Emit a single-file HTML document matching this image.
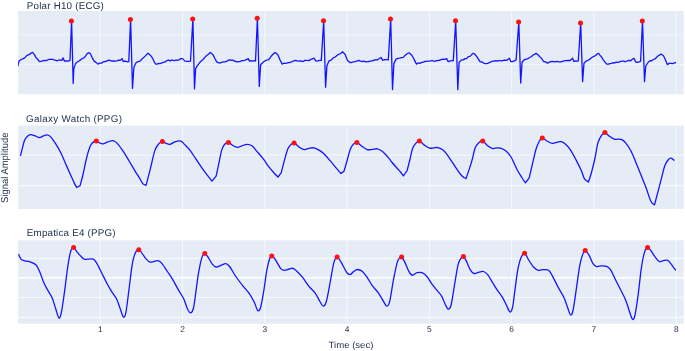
<!DOCTYPE html>
<html><head><meta charset="utf-8"><style>
html,body{margin:0;padding:0;background:#fff;}
svg{display:block;will-change:transform;}
text{font-family:"Liberation Sans",sans-serif;fill:#22334f;text-rendering:geometricPrecision;}
</style></head><body>
<svg width="685" height="351" viewBox="0 0 685 351">
<rect width="685" height="351" fill="#fff"/>
<defs>
<clipPath id="c0"><rect x="18.1" y="10.9" width="665.6" height="83.4"/></clipPath>
<clipPath id="c1"><rect x="18.1" y="125.6" width="665.6" height="83.4"/></clipPath>
<clipPath id="c2"><rect x="18.1" y="240.3" width="665.6" height="83.4"/></clipPath>
</defs>
<rect x="18.1" y="10.9" width="665.6" height="83.4" fill="#E5ECF6"/>
<path d="M100.26,10.9V94.3M182.54,10.9V94.3M264.82,10.9V94.3M347.1,10.9V94.3M429.38,10.9V94.3M511.66,10.9V94.3M593.94,10.9V94.3M676.22,10.9V94.3" stroke="#fff" stroke-width="1" opacity="0.6" fill="none"/>
<path d="M18.1,34.8H683.7M18.1,64.4H683.7" stroke="#fff" stroke-width="1.1" opacity="0.5" fill="none"/>
<rect x="18.1" y="125.6" width="665.6" height="83.4" fill="#E5ECF6"/>
<path d="M100.26,125.6V209M182.54,125.6V209M264.82,125.6V209M347.1,125.6V209M429.38,125.6V209M511.66,125.6V209M593.94,125.6V209M676.22,125.6V209" stroke="#fff" stroke-width="1" opacity="0.6" fill="none"/>
<path d="M18.1,154.95H683.7M18.1,185.6H683.7" stroke="#fff" stroke-width="1.1" opacity="0.7" fill="none"/>
<rect x="18.1" y="240.3" width="665.6" height="83.4" fill="#E5ECF6"/>
<path d="M100.26,240.3V323.7M182.54,240.3V323.7M264.82,240.3V323.7M347.1,240.3V323.7M429.38,240.3V323.7M511.66,240.3V323.7M593.94,240.3V323.7M676.22,240.3V323.7" stroke="#fff" stroke-width="1" opacity="0.6" fill="none"/>
<path d="M18.1,258.4H683.7M18.1,297.45H683.7M18.1,317.35H683.7" stroke="#fff" stroke-width="1.1" opacity="0.7" fill="none"/>
<path d="M18.1,277.75H683.7" stroke="#fff" stroke-width="1.3" fill="none"/>
<g clip-path="url(#c0)"><path d="M18,66.1 L19,61.1 L20.47,60.06 L21.93,59.01 L23.4,58.6 L25.07,57.55 L26.73,55.62 L28.4,54.9 L29.8,54.11 L31.2,53.07 L32.6,52.4 L34.25,54.37 L35.9,57.4 L37.75,59.51 L39.6,61.6 L42,61.1 L43.9,60.29 L45.8,60.6 L47.43,60.12 L49.07,59.28 L50.7,59.4 L52.37,59.24 L54.03,59.98 L55.7,60.4 L57.25,60.79 L58.8,59.95 L60.35,60.07 L61.9,60.4 L63.1,57.9 L64.4,61.1 L66.27,61.02 L68.13,61.17 L70,60.4 L71.6,20.9 L73.2,83.4 L73.8,68.6 L75.6,63.6 L76.8,62.3 L78.65,61.19 L80.5,59.9 L82.17,58.51 L83.83,57.94 L85.5,56.1 L87,53.86 L88.5,52.7 L90.4,53.7 L92.3,57.83 L94.2,61.1 L96.05,62.35 L97.9,64.1 L99.75,63.17 L101.6,63.1 L103.15,61.97 L104.7,61.52 L106.25,61.45 L107.8,60.4 L109.3,60.16 L110.8,60.78 L112.3,60.99 L113.8,60.81 L115.3,61.1 L116.93,60.92 L118.57,60.11 L120.2,60.4 L122.2,58.6 L123.2,61.6 L124.6,61.07 L126,61.25 L127.4,61.82 L128.8,61.6 L130.6,19.4 L132.5,88.4 L133.9,67.3 L136.3,62.3 L138.2,61.61 L140.1,61.1 L141.95,59.03 L143.8,57.4 L145.9,55.4 L148,53.2 L149.6,54.59 L151.2,56.1 L152.7,58.53 L154.2,61.79 L155.7,64.1 L157.1,64.17 L158.5,63.46 L159.9,63.6 L161.4,63.05 L162.9,62.35 L164.4,62.13 L165.9,61.32 L167.4,60.4 L168.81,60.15 L170.23,60.98 L171.64,59.94 L173.06,60.3 L174.47,60.71 L175.89,59.98 L177.3,60.4 L179.03,59.79 L180.77,58.65 L182.5,58.6 L185,61.1 L186.83,61.3 L188.67,61.42 L190.5,61.1 L192.9,18.9 L194.5,88.9 L195.6,68.6 L197.4,65.6 L199.9,62.3 L201.53,60.75 L203.17,59.48 L204.8,57.4 L206.63,55.51 L208.47,54.3 L210.3,52.4 L212.8,54.4 L214.75,58.26 L216.7,61.9 L218.2,62.6 L219.7,63.1 L221.55,62.45 L223.4,61.9 L224.95,61.81 L226.5,61.43 L228.05,60.37 L229.6,59.9 L231.05,60.38 L232.5,59.94 L233.95,60.99 L235.4,61.21 L236.85,61.91 L238.3,61.6 L239.85,61.69 L241.4,60.74 L242.95,60.56 L244.5,60.4 L246.35,59.7 L248.2,58.6 L249.5,61.1 L251,60.53 L252.5,61.05 L254,60.7 L255.5,61.1 L257.4,18.2 L259.3,86.4 L260.6,64.8 L263.1,62.3 L264.77,61.04 L266.43,60.17 L268.1,59.9 L269.83,58.35 L271.55,55.71 L273.27,53.97 L275,52.4 L276.5,53.52 L278,54.9 L280.1,59.95 L282.2,64.1 L283.7,63.26 L285.2,63.37 L286.7,63.1 L288.18,62.66 L289.66,62.56 L291.14,61.98 L292.62,61.54 L294.1,60.6 L295.77,60.5 L297.43,60.83 L299.1,61.1 L300.51,60.86 L301.93,61.42 L303.34,61.43 L304.76,60.4 L306.17,60.35 L307.59,60.35 L309,60.6 L310.67,59.45 L312.33,58.92 L314,58.1 L316,61.1 L317.77,60.97 L319.53,60.35 L321.3,60.4 L323.7,20.7 L325.6,87.2 L326.9,66.1 L328.9,61.1 L331.4,59.9 L333.03,58.04 L334.67,57.27 L336.3,56.1 L337.85,54.84 L339.4,53.98 L340.95,53.34 L342.5,51.7 L345,54.2 L347.5,60.4 L350,62.6 L351.63,62.5 L353.27,61.95 L354.9,61.6 L356.75,61.14 L358.6,60.4 L360.5,61.21 L362.4,61.6 L363.88,60.96 L365.36,61.88 L366.84,61.64 L368.32,61.65 L369.8,61.1 L371.3,61.22 L372.8,60.49 L374.3,60.26 L375.8,59.66 L377.3,59.9 L379.15,58.81 L381,57.4 L382.7,60.4 L384.1,59.75 L385.5,59.63 L386.9,59.68 L388.3,59.9 L390.7,18.9 L392.5,89.6 L393.9,63.6 L395.9,59.4 L397.75,58.34 L399.6,58.1 L401.45,57.56 L403.3,57.4 L404.73,55.69 L406.15,54.45 L407.57,53.46 L409,52.7 L411.5,54.9 L413.17,57.49 L414.83,60.87 L416.5,64.1 L418.3,62.93 L420.1,63.35 L421.9,62.3 L423.4,62.2 L424.9,61.4 L426.4,61.28 L427.9,61.16 L429.4,61.1 L430.81,60.84 L432.23,60.45 L433.64,61.22 L435.06,61.29 L436.47,60.56 L437.89,60.48 L439.3,60.4 L440.97,59.57 L442.63,59.26 L444.3,59.4 L446.7,58.6 L448,61.6 L449.77,61.08 L451.53,60.65 L453.3,60.6 L455.7,20.7 L457.8,89.6 L459.1,62.3 L461.6,59.9 L463.27,59.86 L464.93,58.63 L466.6,58.6 L468.28,56.68 L469.95,56.44 L471.62,54.58 L473.3,53.2 L474.9,54.23 L476.5,56.1 L478.35,59.05 L480.2,61.9 L481.87,61.9 L483.53,63.07 L485.2,63.6 L486.75,63.67 L488.3,63.04 L489.85,62.34 L491.4,61.6 L492.88,61.11 L494.36,61.04 L495.84,60.6 L497.32,61.13 L498.8,60.6 L500.3,60.6 L501.8,60.85 L503.3,60.28 L504.8,60.11 L506.3,60.4 L507.8,59.62 L509.3,58.1 L510.8,61.6 L512.57,61.62 L514.33,60.89 L516.1,59.9 L518.8,22.1 L520.7,83 L522.1,62 L524.6,59.5 L526.3,59.2 L528,58.55 L529.7,57.5 L531.28,56.76 L532.85,55.12 L534.42,54.45 L536,53.4 L538.5,55.2 L540.2,57.13 L541.9,58.83 L543.6,61.5 L545.5,61.83 L547.4,63.3 L549.07,62.37 L550.73,61.68 L552.4,61.3 L553.84,61.53 L555.29,61.85 L556.73,61.24 L558.17,61.82 L559.61,61.89 L561.06,61.85 L562.5,61.3 L564.02,60.98 L565.54,60.64 L567.06,60.49 L568.58,60.3 L570.1,60.5 L572.6,58.2 L573.9,61.5 L575.37,60.91 L576.83,61.18 L578.3,60.8 L580.7,22.9 L582.6,81.7 L584,63.3 L586.5,60.8 L588.17,60.25 L589.83,59.14 L591.5,57.7 L592.92,56.82 L594.34,56.16 L595.76,55.48 L597.18,53.76 L598.6,53.4 L600.1,55.39 L601.6,57 L603.3,59.86 L605,62.07 L606.7,64.1 L608.37,64.17 L610.03,63.61 L611.7,63.4 L613.18,62.66 L614.67,63.05 L616.15,62.15 L617.63,62.36 L619.12,62.22 L620.6,61.3 L622.04,61.1 L623.49,61.04 L624.93,61.62 L626.37,61.28 L627.81,60.55 L629.26,60.42 L630.7,60.8 L632.35,59.08 L634,58.2 L635.7,62 L637.33,62.25 L638.97,61.9 L640.6,61.3 L642.5,21.1 L644.5,81.7 L645.8,65.8 L648.4,62 L650.07,60.74 L651.73,60.73 L653.4,59.5 L654.92,58.98 L656.44,57.49 L657.96,56.02 L659.48,55.16 L661,54 L663.5,55.7 L665.4,59.71 L667.3,64.6 L669.2,63.37 L671.1,63.3 L672.77,63.6 L674.43,62.95 L676.1,62.5" stroke="#1414ff" stroke-width="1.3" fill="none" stroke-linejoin="round"/>
<circle cx="71.4" cy="20.9" r="2.5" fill="#ff1010"/>
<circle cx="130.4" cy="19.6" r="2.5" fill="#ff1010"/>
<circle cx="192.7" cy="18.9" r="2.5" fill="#ff1010"/>
<circle cx="257.2" cy="18.2" r="2.5" fill="#ff1010"/>
<circle cx="323.5" cy="20.7" r="2.5" fill="#ff1010"/>
<circle cx="390.5" cy="18.9" r="2.5" fill="#ff1010"/>
<circle cx="455.5" cy="20.7" r="2.5" fill="#ff1010"/>
<circle cx="518.6" cy="22.1" r="2.5" fill="#ff1010"/>
<circle cx="580.5" cy="22.9" r="2.5" fill="#ff1010"/>
<circle cx="642.3" cy="21.1" r="2.5" fill="#ff1010"/>
</g>
<g clip-path="url(#c1)"><path d="M20.5,155.8 C20.78,154.63 21.5,151.42 22.2,148.8 C22.9,146.18 23.87,142.17 24.7,140.1 C25.53,138.03 26.17,137.3 27.2,136.4 C28.23,135.5 29.67,134.82 30.9,134.7 C32.13,134.58 33.15,135.22 34.6,135.7 C36.05,136.18 38.15,137.57 39.6,137.6 C41.05,137.63 42.07,136.35 43.3,135.9 C44.53,135.45 45.77,134.73 47,134.9 C48.23,135.07 49.25,135.4 50.7,136.9 C52.15,138.4 54.03,141.3 55.7,143.9 C57.37,146.5 59.05,149.2 60.7,152.5 C62.35,155.8 63.95,159.97 65.6,163.7 C67.25,167.43 69.15,171.67 70.6,174.9 C72.05,178.13 73.28,181 74.3,183.1 C75.32,185.2 75.9,186.03 76.7,187.5 C77.83,186.87 78.97,186.23 80.1,185.6 C81.07,181.9 81.9,179.18 83,174.5 C84.1,169.82 85.47,162.28 86.7,157.5 C87.93,152.72 89.15,148.48 90.4,145.8 C91.65,143.12 93.17,142.18 94.2,141.4 C95.23,140.62 95.78,140.9 96.6,141.1 C97.42,141.3 98.07,142.13 99.1,142.6 C100.13,143.07 101.35,144.02 102.8,143.9 C104.25,143.78 106.13,142.45 107.8,141.9 C109.47,141.35 111.35,140.48 112.8,140.6 C114.25,140.72 115.05,141.23 116.5,142.6 C117.95,143.97 119.85,146.52 121.5,148.8 C123.15,151.08 124.75,153.62 126.4,156.3 C128.05,158.98 129.75,162.1 131.4,164.9 C133.05,167.7 135.12,171.2 136.3,173.1 C137.48,175 137.65,174.92 138.5,176.3 C139.35,177.68 140.62,180.12 141.4,181.4 C142.18,182.68 142.42,183.35 143.2,184 C143.98,184.65 145.13,184.87 146.1,185.3 C147.13,181.3 148.28,176.93 149.2,173.3 C150.12,169.67 150.63,167.37 151.6,163.5 C152.57,159.63 153.82,153.37 155,150.1 C156.18,146.83 157.47,145.35 158.7,143.9 C159.93,142.45 161.17,141.48 162.4,141.4 C163.63,141.32 164.87,142.92 166.1,143.4 C167.33,143.88 168.35,144.55 169.8,144.3 C171.25,144.05 173.13,142.47 174.8,141.9 C176.47,141.33 178.52,140.85 179.8,140.9 C181.08,140.95 181.72,141.62 182.5,142.2 C183.28,142.78 183.3,143.12 184.5,144.4 C185.7,145.68 187.92,147.65 189.7,149.9 C191.48,152.15 193.37,155.2 195.2,157.9 C197.03,160.6 198.88,163.47 200.7,166.1 C202.52,168.73 204.22,171.2 206.1,173.7 C207.98,176.2 210.03,178.63 212,181.1 C213.37,179.47 214.73,177.83 216.1,176.2 C216.9,172.53 217.57,169.55 218.5,165.2 C219.43,160.85 220.67,153.58 221.7,150.1 C222.73,146.62 223.58,145.58 224.7,144.3 C225.82,143.02 226.97,142.15 228.4,142.4 C229.83,142.65 231.77,144.98 233.3,145.8 C234.83,146.62 236.15,147.3 237.6,147.3 C239.05,147.3 240.43,146.3 242,145.8 C243.57,145.3 245.33,144.3 247,144.3 C248.67,144.3 250.35,144.63 252,145.8 C253.65,146.97 255.05,149.15 256.9,151.3 C258.75,153.45 261.03,156.02 263.1,158.7 C265.17,161.38 267.43,164.98 269.3,167.4 C271.17,169.82 272.85,171.6 274.3,173.2 C275.75,174.8 276.77,175.73 278,177 C279.1,175.53 280.2,174.07 281.3,172.6 C282.27,168.8 283.1,165.17 284.2,161.2 C285.3,157.23 286.73,151.62 287.9,148.8 C289.07,145.98 290.17,145.28 291.2,144.3 C292.23,143.32 292.78,142.43 294.1,142.9 C295.42,143.37 297.43,145.98 299.1,147.1 C300.77,148.22 302.45,149.4 304.1,149.6 C305.75,149.8 307.35,148.6 309,148.3 C310.65,148 312.33,147.5 314,147.8 C315.67,148.1 317.35,149.1 319,150.1 C320.65,151.1 322.05,152.03 323.9,153.8 C325.75,155.57 328.03,158.3 330.1,160.7 C332.17,163.1 334.5,166.07 336.3,168.2 C338.1,170.33 339.37,171.73 340.9,173.5 C341.93,172.77 342.97,172.03 344,171.3 C344.97,167.93 345.82,164.95 346.9,161.2 C347.98,157.45 349.37,151.68 350.5,148.8 C351.63,145.92 352.63,144.97 353.7,143.9 C354.77,142.83 355.53,142 356.9,142.4 C358.27,142.8 360.17,145.1 361.9,146.3 C363.63,147.5 365.57,149.1 367.3,149.6 C369.03,150.1 370.63,149.43 372.3,149.3 C373.97,149.17 375.65,148.47 377.3,148.8 C378.95,149.13 380.55,150.05 382.2,151.3 C383.85,152.55 385.55,154.43 387.2,156.3 C388.85,158.17 390.45,160.52 392.1,162.5 C393.75,164.48 395.7,166.62 397.1,168.2 C398.5,169.78 399.45,170.72 400.5,172 C401.55,173.28 402.43,174.6 403.4,175.9 C404.63,174.13 405.87,172.37 407.1,170.6 C408,167.07 408.9,163.63 409.8,160 C410.7,156.37 411.52,151.57 412.5,148.8 C413.48,146.03 414.55,144.72 415.7,143.4 C416.85,142.08 417.95,140.62 419.4,140.9 C420.85,141.18 422.73,143.9 424.4,145.1 C426.07,146.3 427.83,147.65 429.4,148.1 C430.97,148.55 432.37,147.88 433.8,147.8 C435.23,147.72 436.47,147.22 438,147.6 C439.53,147.98 441.33,148.73 443,150.1 C444.67,151.47 446.35,153.62 448,155.8 C449.65,157.98 451.25,160.72 452.9,163.2 C454.55,165.68 456.33,168.52 457.9,170.7 C459.47,172.88 460.95,174.97 462.3,176.3 C463.65,177.63 464.77,177.9 466,178.7 C467.17,175.27 468.5,171.47 469.5,168.4 C470.5,165.33 471.03,163.77 472,160.3 C472.97,156.83 474.13,150.55 475.3,147.6 C476.47,144.65 477.77,143.72 479,142.6 C480.23,141.48 481.25,140.37 482.7,140.9 C484.15,141.43 486.05,144.52 487.7,145.8 C489.35,147.08 490.95,148.27 492.6,148.6 C494.25,148.93 496.15,147.85 497.6,147.8 C499.05,147.75 499.85,147.72 501.3,148.3 C502.75,148.88 504.63,149.77 506.3,151.3 C507.97,152.83 509.52,154.47 511.3,157.5 C513.08,160.53 515.2,166.08 517,169.5 C518.8,172.92 520.7,175.77 522.1,178 C523.5,180.23 524.3,181.27 525.4,182.9 C526.67,181.2 527.93,179.5 529.2,177.8 C530.2,173.6 531.07,169.95 532.2,165.2 C533.33,160.45 534.82,153.3 536,149.3 C537.18,145.3 538.25,143.1 539.3,141.2 C540.35,139.3 540.95,137.9 542.3,137.9 C543.65,137.9 545.72,140.28 547.4,141.2 C549.08,142.12 550.72,143.23 552.4,143.4 C554.08,143.57 556.03,142.48 557.5,142.2 C558.97,141.92 559.95,141.45 561.2,141.7 C562.45,141.95 563.52,142.43 565,143.7 C566.48,144.97 568.2,146.48 570.1,149.3 C572,152.12 574.52,157.03 576.4,160.6 C578.28,164.17 580.05,167.65 581.4,170.7 C582.75,173.75 583.32,177.02 584.5,178.9 C585.68,180.78 587.17,180.97 588.5,182 C589.53,178.67 590.53,175.92 591.6,172 C592.67,168.08 593.85,163.35 594.9,158.5 C595.95,153.65 596.78,146.75 597.9,142.9 C599.02,139.05 600.43,137.12 601.6,135.4 C602.77,133.68 603.63,132.48 604.9,132.6 C606.17,132.72 607.63,135 609.2,136.1 C610.77,137.2 612.82,138.68 614.3,139.2 C615.78,139.72 616.85,139.12 618.1,139.2 C619.35,139.28 620.55,139.08 621.8,139.7 C623.05,140.32 624.12,141.1 625.6,142.9 C627.08,144.7 629.02,147.33 630.7,150.5 C632.38,153.67 634.02,157.9 635.7,161.9 C637.38,165.9 639.12,170.3 640.8,174.5 C642.48,178.7 644.1,182.6 645.8,187.1 C647.5,191.6 649.55,198.53 651,201.5 C652.45,204.47 653.33,203.77 654.5,204.9 C655.6,200.73 656.72,196.52 657.8,192.4 C658.88,188.28 659.83,184.65 661,180.2 C662.17,175.75 663.53,169.17 664.8,165.7 C666.07,162.23 667.55,160.67 668.6,159.4 C669.65,158.13 670.13,157.9 671.1,158.1 C672.07,158.3 673.85,160.18 674.4,160.6" stroke="#1414ff" stroke-width="1.3" fill="none" stroke-linejoin="round"/>
<circle cx="96.3" cy="141" r="2.5" fill="#ff1010"/>
<circle cx="162.4" cy="141.4" r="2.5" fill="#ff1010"/>
<circle cx="228.4" cy="142.4" r="2.5" fill="#ff1010"/>
<circle cx="294.1" cy="142.9" r="2.5" fill="#ff1010"/>
<circle cx="356.9" cy="142.4" r="2.5" fill="#ff1010"/>
<circle cx="419.4" cy="140.9" r="2.5" fill="#ff1010"/>
<circle cx="482.7" cy="140.9" r="2.5" fill="#ff1010"/>
<circle cx="542.3" cy="137.9" r="2.5" fill="#ff1010"/>
<circle cx="604.9" cy="132.6" r="2.5" fill="#ff1010"/>
</g>
<g clip-path="url(#c2)"><path d="M18.5,254.1 C18.92,254.93 19.97,257.98 21,259.1 C22.03,260.22 23.27,260.38 24.7,260.8 C26.13,261.22 27.73,260.93 29.6,261.6 C31.47,262.27 34.23,263.15 35.9,264.8 C37.57,266.45 38.37,268.73 39.6,271.5 C40.83,274.27 42.07,278.5 43.3,281.4 C44.53,284.3 45.55,286.2 47,288.9 C48.45,291.6 50.55,294.3 52,297.6 C53.45,300.9 54.55,305.32 55.7,308.7 C56.85,312.08 57.95,317.28 58.9,317.9 C59.85,318.52 60.48,316.62 61.4,312.4 C62.32,308.18 63.37,300.03 64.4,292.6 C65.43,285.17 66.57,274.63 67.6,267.8 C68.63,260.97 69.6,255 70.6,251.6 C71.6,248.2 72.57,247.4 73.6,247.4 C74.63,247.4 75.65,250.18 76.8,251.6 C77.95,253.02 79.27,254.65 80.5,255.9 C81.73,257.15 82.75,258.57 84.2,259.1 C85.65,259.63 87.67,259.1 89.2,259.1 C90.73,259.1 92.17,258.48 93.4,259.1 C94.63,259.72 95.23,260.53 96.6,262.8 C97.97,265.07 99.93,269.38 101.6,272.7 C103.27,276.02 104.95,279.6 106.6,282.7 C108.25,285.8 109.85,288.62 111.5,291.3 C113.15,293.98 115.05,295.9 116.5,298.8 C117.95,301.7 119.05,305.68 120.2,308.7 C121.35,311.72 122.45,316.28 123.4,316.9 C124.35,317.52 124.98,316.87 125.9,312.4 C126.82,307.93 127.87,297.95 128.9,290.1 C129.93,282.25 131.07,271.42 132.1,265.3 C133.13,259.18 133.98,256 135.1,253.4 C136.22,250.8 137.55,249.58 138.8,249.7 C140.05,249.82 141.35,252.53 142.6,254.1 C143.85,255.67 145.07,257.77 146.3,259.1 C147.53,260.43 148.77,261.68 150,262.1 C151.23,262.52 152.25,261.82 153.7,261.6 C155.15,261.38 157.25,260.38 158.7,260.8 C160.15,261.22 160.95,262.32 162.4,264.1 C163.85,265.88 165.75,269.03 167.4,271.5 C169.05,273.97 170.45,275.8 172.3,278.9 C174.15,282 176.6,286.78 178.5,290.1 C180.4,293.42 182.22,295.7 183.7,298.8 C185.18,301.9 186.23,306.35 187.4,308.7 C188.57,311.05 189.67,313.1 190.7,312.9 C191.73,312.7 192.7,311.3 193.6,307.5 C194.5,303.7 195.27,295.9 196.1,290.1 C196.93,284.3 197.65,278.07 198.6,272.7 C199.55,267.33 200.77,261.12 201.8,257.9 C202.83,254.68 203.68,253.4 204.8,253.4 C205.92,253.4 207.25,256.12 208.5,257.9 C209.75,259.68 211.05,262.58 212.3,264.1 C213.55,265.62 214.57,266.8 216,267 C217.43,267.2 219.25,265.87 220.9,265.3 C222.55,264.73 224.45,263.4 225.9,263.6 C227.35,263.8 227.95,264.35 229.6,266.5 C231.25,268.65 233.52,273.18 235.8,276.5 C238.08,279.82 241.02,283.52 243.3,286.4 C245.58,289.28 247.65,291.12 249.5,293.8 C251.35,296.48 253.03,299.72 254.4,302.5 C255.77,305.28 256.67,309.67 257.7,310.5 C258.73,311.33 259.57,310.9 260.6,307.5 C261.63,304.1 262.87,296.3 263.9,290.1 C264.93,283.9 265.82,275.6 266.8,270.3 C267.78,265 268.97,260.7 269.8,258.3 C270.63,255.9 270.85,255.65 271.8,255.9 C272.75,256.15 274.05,257.73 275.5,259.8 C276.95,261.87 279.05,266.55 280.5,268.3 C281.95,270.05 282.75,270.18 284.2,270.3 C285.65,270.42 287.75,269.33 289.2,269 C290.65,268.67 291.67,267.97 292.9,268.3 C294.13,268.63 294.95,269.43 296.6,271 C298.25,272.57 300.73,275.13 302.8,277.7 C304.87,280.27 306.93,283.83 309,286.4 C311.07,288.97 313.33,290.5 315.2,293.1 C317.07,295.7 318.83,299.82 320.2,302 C321.57,304.18 322.37,306.32 323.4,306.2 C324.43,306.08 325.28,305.22 326.4,301.3 C327.52,297.38 328.87,289.12 330.1,282.7 C331.33,276.28 332.63,267.07 333.8,262.8 C334.97,258.53 335.93,257.3 337.1,257.1 C338.27,256.9 339.48,259.53 340.8,261.6 C342.12,263.67 343.97,267.65 345,269.5 C346.03,271.35 346.17,271.83 347,272.7 C347.83,273.57 348.88,274.9 350,274.7 C351.12,274.5 352.47,272.37 353.7,271.5 C354.93,270.63 355.95,269.5 357.4,269.5 C358.85,269.5 360.75,270.13 362.4,271.5 C364.05,272.87 365.65,275.35 367.3,277.7 C368.95,280.05 370.43,283.03 372.3,285.6 C374.17,288.17 376.63,290.48 378.5,293.1 C380.37,295.72 382.13,299.12 383.5,301.3 C384.87,303.48 385.67,306.2 386.7,306.2 C387.73,306.2 388.58,305.63 389.7,301.3 C390.82,296.97 392.17,286.62 393.4,280.2 C394.63,273.78 396.07,266.52 397.1,262.8 C398.13,259.08 398.85,258.85 399.6,257.9 C400.35,256.95 400.77,256.48 401.6,257.1 C402.43,257.72 403.48,259.4 404.6,261.6 C405.72,263.8 407.07,268.03 408.3,270.3 C409.53,272.57 410.55,274.8 412,275.2 C413.45,275.6 415.35,273.12 417,272.7 C418.65,272.28 420.25,272.07 421.9,272.7 C423.55,273.33 425.25,274.63 426.9,276.5 C428.55,278.37 430.15,281.63 431.8,283.9 C433.45,286.17 435.13,288.03 436.8,290.1 C438.47,292.17 440.35,293.82 441.8,296.3 C443.25,298.78 444.38,302.85 445.5,305 C446.62,307.15 447.55,309.28 448.5,309.2 C449.45,309.12 450.17,308.72 451.2,304.5 C452.23,300.28 453.58,290.43 454.7,283.9 C455.82,277.37 456.95,269.43 457.9,265.3 C458.85,261.17 459.48,260.58 460.4,259.1 C461.32,257.62 462.37,255.98 463.4,256.4 C464.43,256.82 465.45,259.37 466.6,261.6 C467.75,263.83 469.07,267.82 470.3,269.8 C471.53,271.78 472.55,273.1 474,273.5 C475.45,273.9 477.42,272.53 479,272.2 C480.58,271.87 482.05,271.08 483.5,271.5 C484.95,271.92 486.18,272.83 487.7,274.7 C489.22,276.57 490.95,280.05 492.6,282.7 C494.25,285.35 495.93,288.12 497.6,290.6 C499.27,293.08 501.15,295.2 502.6,297.6 C504.05,300 505.07,302.6 506.3,305 C507.53,307.4 508.97,311.58 510,312 C511.03,312.42 511.75,310.57 512.5,307.5 C513.25,304.43 513.65,299.72 514.5,293.6 C515.35,287.48 516.55,276.7 517.6,270.8 C518.65,264.9 519.63,261.13 520.8,258.2 C521.97,255.27 523.33,252.98 524.6,253.2 C525.87,253.42 526.92,257.2 528.4,259.5 C529.88,261.8 531.82,265.2 533.5,267 C535.18,268.8 536.82,269.87 538.5,270.3 C540.18,270.73 541.92,269.6 543.6,269.6 C545.28,269.6 547.13,269.25 548.6,270.3 C550.07,271.35 550.92,273.28 552.4,275.9 C553.88,278.52 555.6,282.43 557.5,286 C559.4,289.57 562.12,293.73 563.8,297.3 C565.48,300.87 566.47,304.45 567.6,307.4 C568.73,310.35 569.68,314.57 570.6,315 C571.52,315.43 572.13,314.42 573.1,310 C574.07,305.58 575.3,295.87 576.4,288.5 C577.5,281.13 578.65,271.48 579.7,265.8 C580.75,260.12 581.78,256.93 582.7,254.4 C583.62,251.87 584.15,250.47 585.2,250.6 C586.25,250.73 587.73,253.08 589,255.2 C590.27,257.32 591.53,261.42 592.8,263.3 C594.07,265.18 595.13,266.08 596.6,266.5 C598.07,266.92 599.92,265.83 601.6,265.8 C603.28,265.77 605.22,265.67 606.7,266.3 C608.18,266.93 609.03,267.37 610.5,269.6 C611.97,271.83 613.82,276.33 615.5,279.7 C617.18,283.07 618.92,286.43 620.6,289.8 C622.28,293.17 624.13,296.33 625.6,299.9 C627.07,303.47 628.25,307.97 629.4,311.2 C630.55,314.43 631.57,318.67 632.5,319.3 C633.43,319.93 634.03,319.28 635,315 C635.97,310.72 637.25,301.38 638.3,293.6 C639.35,285.82 640.25,275.25 641.3,268.3 C642.35,261.35 643.55,255.35 644.6,251.9 C645.65,248.45 646.55,247.82 647.6,247.6 C648.65,247.38 649.72,249.13 650.9,250.6 C652.08,252.07 653.32,254.58 654.7,256.4 C656.08,258.22 657.82,260.78 659.2,261.5 C660.58,262.22 661.65,260.92 663,260.7 C664.35,260.48 666.03,259.77 667.3,260.2 C668.57,260.63 669.22,261.62 670.6,263.3 C671.98,264.98 674.77,269.13 675.6,270.3" stroke="#1414ff" stroke-width="1.3" fill="none" stroke-linejoin="round"/>
<circle cx="73.6" cy="247.4" r="2.5" fill="#ff1010"/>
<circle cx="138.8" cy="249.7" r="2.5" fill="#ff1010"/>
<circle cx="204.8" cy="253.4" r="2.5" fill="#ff1010"/>
<circle cx="271.8" cy="255.9" r="2.5" fill="#ff1010"/>
<circle cx="337.1" cy="257.1" r="2.5" fill="#ff1010"/>
<circle cx="401.6" cy="257.1" r="2.5" fill="#ff1010"/>
<circle cx="463.4" cy="256.4" r="2.5" fill="#ff1010"/>
<circle cx="524.6" cy="253.2" r="2.5" fill="#ff1010"/>
<circle cx="585.2" cy="250.6" r="2.5" fill="#ff1010"/>
<circle cx="647.6" cy="247.6" r="2.5" fill="#ff1010"/>
</g>
<text x="26.8" y="9.1" font-size="9.8" textLength="77" lengthAdjust="spacing">Polar H10 (ECG)</text>
<text x="26.1" y="121.95" font-size="9.8" textLength="95.8" lengthAdjust="spacing">Galaxy Watch (PPG)</text>
<text x="26.8" y="236" font-size="9.8" textLength="88.7" lengthAdjust="spacing">Empatica E4 (PPG)</text>
<text x="100.26" y="331.9" font-size="8.4" text-anchor="middle">1</text>
<text x="182.54" y="331.9" font-size="8.4" text-anchor="middle">2</text>
<text x="264.82" y="331.9" font-size="8.4" text-anchor="middle">3</text>
<text x="347.1" y="331.9" font-size="8.4" text-anchor="middle">4</text>
<text x="429.38" y="331.9" font-size="8.4" text-anchor="middle">5</text>
<text x="511.66" y="331.9" font-size="8.4" text-anchor="middle">6</text>
<text x="593.94" y="331.9" font-size="8.4" text-anchor="middle">7</text>
<text x="676.22" y="331.9" font-size="8.4" text-anchor="middle">8</text>
<text x="351" y="347.6" font-size="9" text-anchor="middle" textLength="44.8" lengthAdjust="spacingAndGlyphs">Time (sec)</text>
<text transform="translate(8.4,167.75) rotate(-90)" font-size="10" text-anchor="middle" textLength="70.4" lengthAdjust="spacingAndGlyphs">Signal Amplitude</text>
</svg>
</body></html>
